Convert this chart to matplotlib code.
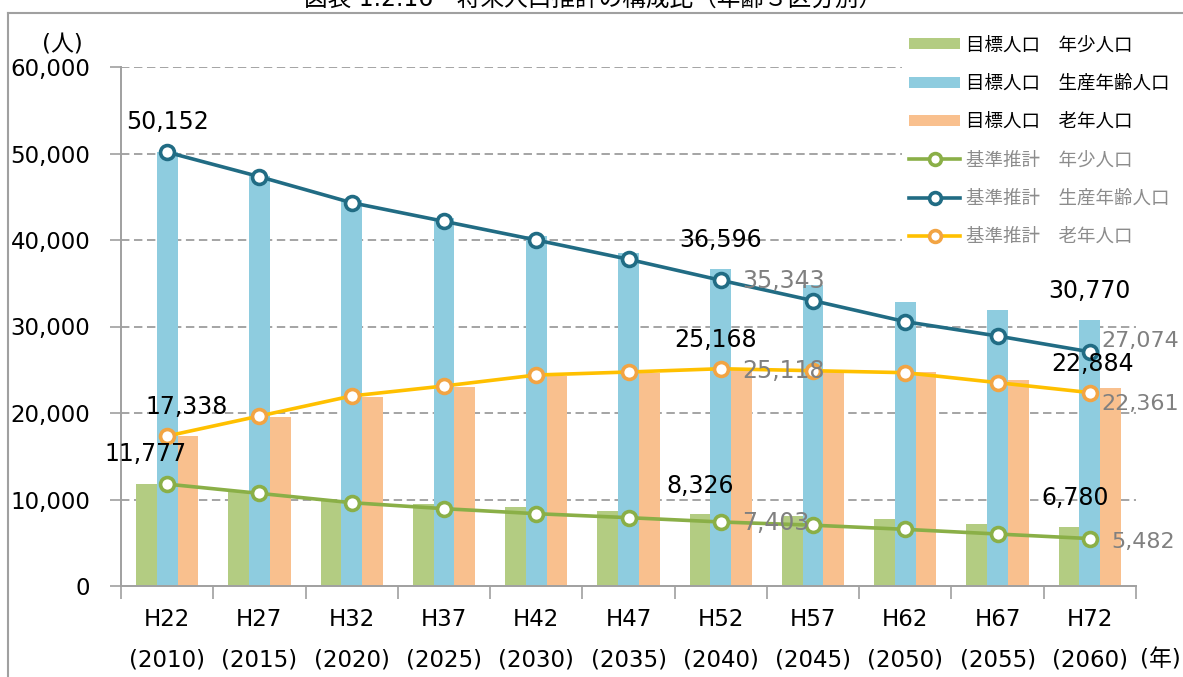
import matplotlib
matplotlib.use("Agg")
import matplotlib.pyplot as plt
import matplotlib.transforms as mtrans
import numpy as np
from matplotlib.lines import Line2D
from matplotlib.patches import Patch

plt.rcParams['font.family'] = ['DejaVu Sans', 'Noto Sans CJK JP']

categories = ["H22", "H27", "H32", "H37", "H42", "H47", "H52", "H57", "H62", "H67", "H72"]
years = ["(2010)", "(2015)", "(2020)", "(2025)", "(2030)", "(2035)", "(2040)", "(2045)", "(2050)", "(2055)", "(2060)"]

# 目標人口 (bars)
target_young = [11777, 10830, 9950, 9480, 9100, 8670, 8326, 8090, 7710, 7200, 6780]
target_work = [50152, 47450, 44600, 42550, 40500, 38450, 36596, 34800, 32870, 31870, 30770]
target_old = [17338, 19570, 21890, 23040, 24280, 24660, 25168, 24860, 24780, 23820, 22884]

# 基準推計 (lines)
base_young = [11777, 10710, 9630, 8940, 8360, 7900, 7403, 7030, 6550, 6010, 5482]
base_work = [50152, 47320, 44310, 42160, 40000, 37770, 35343, 32990, 30560, 28900, 27074]
base_old = [17338, 19650, 21970, 23120, 24390, 24740, 25118, 24890, 24660, 23510, 22361]

legend_labels = ["目標人口　年少人口", "目標人口　生産年齢人口", "目標人口　老年人口",
                 "基準推計　年少人口", "基準推計　生産年齢人口", "基準推計　老年人口"]
title = "図表 1.2.16　将来人口推計の構成比（年齢３区分別）"

c_bar = ["#B3CC82", "#8ECCDF", "#F9C08E"]
c_line = ["#8AAF47", "#216C84", "#FFC000"]
c_medge = ["#8AAF47", "#216C84", "#F2A443"]
grid_c = "#8C8C8C"
axis_c = "#A0A0A0"

W, H = 1183, 677
fig = plt.figure(figsize=(W / 100, H / 100), dpi=100)
ax = fig.add_axes([121 / W, (H - 586) / H, (1136 - 121) / W, (586 - 67) / H])

x = np.arange(len(categories))
bw = 0.225
for i, (vals, col) in enumerate(zip([target_young, target_work, target_old], c_bar)):
    ax.bar(x + (i - 1) * bw, vals, width=bw, color=col, zorder=2, linewidth=0)

for vals, lc, mc in zip([base_young, base_work, base_old], c_line, c_medge):
    ax.plot(x, vals, color=lc, lw=2.6, marker='o', ms=10, mfc='white', mec=mc, mew=2.6, zorder=4)

ax.set_xlim(-0.5, len(categories) - 0.5)
ax.set_ylim(0, 60000)
yt = np.arange(0, 60001, 10000)
ax.set_yticks(yt)
ax.set_yticklabels([f"{v:,}" for v in yt], fontsize=16.5)
for v in yt[1:]:
    ax.axhline(v, color=grid_c, lw=1.1, ls=(0, (5.5, 3)), zorder=1)

ax.set_xticks(np.arange(-0.5, len(categories), 1))
ax.set_xticklabels([])
ax.tick_params(axis='x', length=9, width=1.2, color=axis_c, direction='out')
ax.tick_params(axis='y', length=8, width=1.2, color=axis_c, direction='out', pad=14)
for s in ['top', 'right']:
    ax.spines[s].set_visible(False)
for s in ['left', 'bottom']:
    ax.spines[s].set_color(axis_c)
    ax.spines[s].set_linewidth(1.4)

btr = mtrans.blended_transform_factory(ax.transData, fig.transFigure)
for xi, (c, y) in enumerate(zip(categories, years)):
    ax.text(xi, (H - 620) / H, c, transform=btr, ha='center', va='center', fontsize=16.5)
    ax.text(xi, (H - 660) / H, y, transform=btr, ha='center', va='center', fontsize=16.5)
fig.text(1160 / W, (H - 660) / H, "(年)", ha='center', va='center', fontsize=16.5)
fig.text(62 / W, (H - 45) / H, "(人)", ha='center', va='center', fontsize=16.5)

# data labels (offsets in points)
def lab(xi, val, dx, dy, color='black', ha='center', fs=17):
    ax.annotate(f"{val:,}", (xi, val), xytext=(dx, dy), textcoords='offset points',
                ha=ha, va='center', fontsize=fs, color=color, zorder=6)

k = 0.72
lab(0, target_work[0], 0, 30 * k)
lab(0, target_old[0], 19 * k, 29 * k)
lab(0, target_young[0], -22 * k, 30 * k)
lab(6, target_work[6], 0, 29 * k)
lab(6, target_old[6], -5 * k, 28 * k)
lab(6, target_young[6], -21 * k, 28 * k)
lab(10, target_work[10], 0, 29 * k)
lab(10, target_old[10], 3 * k, 24 * k)
lab(10, target_young[10], -15 * k, 29 * k)
gray = "#808080"
lab(6, base_work[6], 21 * k, -1 * k, gray, 'left')
lab(6, base_old[6], 21 * k, -2 * k, gray, 'left')
lab(6, base_young[6], 21 * k, -1 * k, gray, 'left')
lab(10, base_work[10], 12 * k, 11 * k, gray, 'left', 16)
lab(10, base_old[10], 12 * k, -11 * k, gray, 'left', 16)
lab(10, base_young[10], 21 * k, -3 * k, gray, 'left', 16)

# legend
handles = [Patch(facecolor=c, edgecolor='none') for c in c_bar] + \
          [Line2D([0], [0], color=lc, lw=2.6, marker='o', ms=8.5, mfc='white', mec=mc, mew=2.6)
           for lc, mc in zip(c_line, c_medge)]
leg = fig.legend(handles, legend_labels, loc='upper left',
                 bbox_to_anchor=(902 / W, 1 - 29 / H), fontsize=13.3,
                 frameon=True, facecolor='white', edgecolor='none', framealpha=1,
                 handlelength=2.75, handleheight=0.55, handletextpad=0.3,
                 labelspacing=1.1, borderpad=0.4, borderaxespad=0)
for t, col in zip(leg.get_texts(), ['black'] * 3 + ['#8C8C8C'] * 3):
    t.set_color(col)

# title (partly cut off at top, as in the source) and outer frame
fig.text(593 / W, 1 - 6 / H, title, ha='center', va='baseline', fontsize=17)
fig.add_artist(Line2D([8 / W, 1], [1 - 13 / H, 1 - 13 / H], color="#A0A0A0", lw=1.5,
                      transform=fig.transFigure))
fig.add_artist(Line2D([8 / W, 8 / W], [0, 1 - 13 / H], color="#A0A0A0", lw=1.5,
                      transform=fig.transFigure))

fig.savefig("out.png", dpi=100)
